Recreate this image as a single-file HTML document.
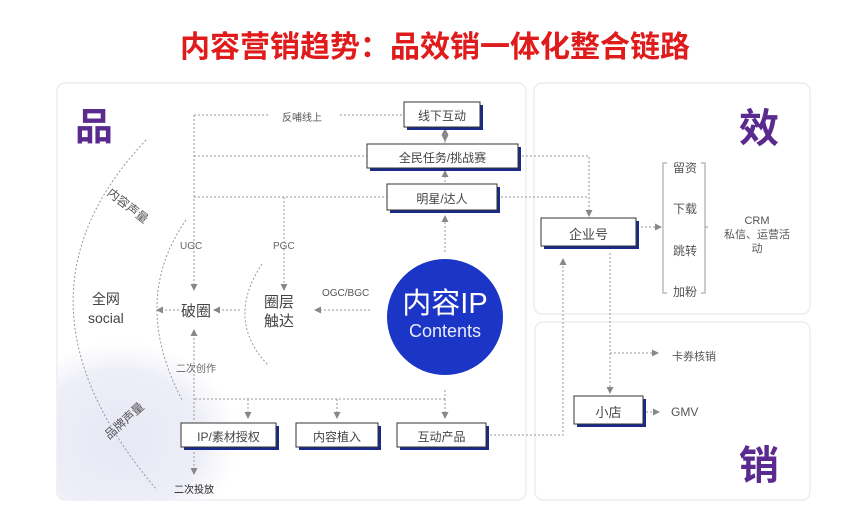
<!DOCTYPE html>
<html><head><meta charset="utf-8"><style>
html,body{margin:0;width:855px;height:509px;overflow:hidden;}
body{background:#fff;position:relative;font-family:"Liberation Sans","Noto Sans CJK SC",sans-serif;}
.t{position:absolute;white-space:nowrap;}
</style></head><body>
<svg width="855" height="509" style="position:absolute;left:0;top:0;display:block" xmlns="http://www.w3.org/2000/svg">
<defs>
<radialGradient id="blob" cx="0.5" cy="0.5" r="0.5"><stop offset="0" stop-color="#e8e8f6"/><stop offset="0.7" stop-color="#eeeef8"/><stop offset="1" stop-color="#f6f6fc" stop-opacity="0"/></radialGradient>
<clipPath id="cp"><rect x="57" y="83" width="469" height="417" rx="8"/></clipPath>
<marker id="a" markerWidth="8" markerHeight="8" refX="6" refY="4" orient="auto" markerUnits="userSpaceOnUse"><path d="M0,0.5 L7,4 L0,7.5z" fill="#888"/></marker>
</defs>
<rect x="57" y="83" width="469" height="417" rx="8" fill="#fff" stroke="#e4e4ec"/>
<ellipse cx="120" cy="440" rx="120" ry="100" fill="url(#blob)" clip-path="url(#cp)"/>
<rect x="534" y="83" width="276" height="231" rx="8" fill="#fff" stroke="#e4e4ec"/>
<rect x="535" y="322" width="275" height="178" rx="8" fill="#fff" stroke="#e4e4ec"/>
<g fill="none" stroke="#999" stroke-width="1" stroke-dasharray="2,2">
<path d="M146,140 Q-5,300 157,490"/>
<path d="M186,220 Q130,300 182,400"/>
<path d="M262,264 Q225,320 268,365"/>
<path d="M194,115 L270,115 M340,115 L403,115"/>
<path d="M194,115 L194,290" marker-end="url(#a)"/>
<path d="M194,156 L367,156 M194,197 L387,197"/>
<path d="M284,197 L284,290" marker-end="url(#a)"/>
<path d="M445,143 L445,129" marker-end="url(#a)"/>
<path d="M445,129 L445,141" marker-end="url(#a)"/>
<path d="M445,182 L445,171" marker-end="url(#a)"/>
<path d="M445,252 L445,216" marker-end="url(#a)"/>
<path d="M370,310 L315,310" marker-end="url(#a)"/>
<path d="M240,310 L214,310" marker-end="url(#a)"/>
<path d="M179,310 L157,310" marker-end="url(#a)"/>
<path d="M194,420 L194,330" marker-end="url(#a)"/>
<path d="M194,448 L194,474" marker-end="url(#a)"/>
<path d="M195,399 L445,399 M445,390 L445,399"/>
<path d="M248,399 L248,418" marker-end="url(#a)"/>
<path d="M337,399 L337,418" marker-end="url(#a)"/>
<path d="M445,399 L445,418" marker-end="url(#a)"/>
<path d="M518,156 L589,156 L589,216" marker-end="url(#a)"/>
<path d="M497,197 L589,197"/>
<path d="M641,227 L661,227" marker-end="url(#a)"/>
<path d="M610,253 L610,393" marker-end="url(#a)"/>
<path d="M610,353 L658,353" marker-end="url(#a)"/>
<path d="M646,412 L659,412" marker-end="url(#a)"/>
<path d="M486,435 L563,435 L563,259" marker-end="url(#a)"/>
</g>
<path d="M667,163 L663,163 L663,293 L667,293 M701,163 L705,163 L705,293 L701,293 M705,227 L708,227" fill="none" stroke="#999"/>
<g stroke="#333" stroke-width="1" fill="#fff">
<rect x="407" y="105" width="76" height="25" fill="#1a2a8a" stroke="none"/><rect x="404" y="102" width="76" height="25"/>
<rect x="370" y="147" width="151" height="24" fill="#1a2a8a" stroke="none"/><rect x="367" y="144" width="151" height="24"/>
<rect x="390" y="187" width="110" height="26" fill="#1a2a8a" stroke="none"/><rect x="387" y="184" width="110" height="26"/>
<rect x="184" y="426" width="95" height="24" fill="#1a2a8a" stroke="none"/><rect x="181" y="423" width="95" height="24"/>
<rect x="299" y="426" width="82" height="24" fill="#1a2a8a" stroke="none"/><rect x="296" y="423" width="82" height="24"/>
<rect x="400" y="426" width="89" height="24" fill="#1a2a8a" stroke="none"/><rect x="397" y="423" width="89" height="24"/>
<rect x="544" y="221" width="95" height="28" fill="#1a2a8a" stroke="none"/><rect x="541" y="218" width="95" height="28"/>
<rect x="577" y="399" width="69" height="28" fill="#1a2a8a" stroke="none"/><rect x="574" y="396" width="69" height="28"/>
</g>
<circle cx="445" cy="317" r="58" fill="#1b35c6"/>
</svg>
<div class="t" style="left:15px;width:840px;top:22px;text-align:center;font-size:30px;font-weight:bold;color:#e01b1b">内容营销趋势：品效销一体化整合链路</div>
<div class="t" style="left:75px;top:96px;font-size:38px;font-weight:bold;color:#5b2a8e">品</div>
<div class="t" style="left:739px;top:96px;font-size:40px;font-weight:bold;color:#5b2a8e">效</div>
<div class="t" style="left:739px;top:433px;font-size:40px;font-weight:bold;color:#5b2a8e">销</div>
<div class="t" style="left:404px;top:107px;width:76px;text-align:center;font-size:12px;color:#444">线下互动</div>
<div class="t" style="left:367px;top:149px;width:151px;text-align:center;font-size:12px;color:#444">全民任务/挑战赛</div>
<div class="t" style="left:387px;top:190px;width:110px;text-align:center;font-size:12px;color:#444">明星/达人</div>
<div class="t" style="left:181px;top:428px;width:95px;text-align:center;font-size:12px;color:#444">IP/素材授权</div>
<div class="t" style="left:296px;top:428px;width:82px;text-align:center;font-size:12px;color:#444">内容植入</div>
<div class="t" style="left:397px;top:428px;width:89px;text-align:center;font-size:12px;color:#444">互动产品</div>
<div class="t" style="left:541px;top:224px;width:95px;text-align:center;font-size:13px;color:#444">企业号</div>
<div class="t" style="left:574px;top:402px;width:69px;text-align:center;font-size:13px;color:#444">小店</div>
<div class="t" style="left:387px;top:280px;width:116px;text-align:center;font-size:29px;color:#fff">内容IP</div>
<div class="t" style="left:387px;top:321px;width:116px;text-align:center;font-size:18px;color:#e8ecff">Contents</div>
<div class="t" style="left:282px;top:109px;font-size:10px;color:#555">反哺线上</div>
<div class="t" style="left:180px;top:241px;font-size:10px;color:#666">UGC</div>
<div class="t" style="left:273px;top:241px;font-size:10px;color:#666">PGC</div>
<div class="t" style="left:322px;top:288px;font-size:10px;color:#555">OGC/BGC</div>
<div class="t" style="left:181px;top:300px;font-size:15px;color:#444">破圈</div>
<div class="t" style="left:264px;top:293px;font-size:15px;color:#444;line-height:19px">圈层<br>触达</div>
<div class="t" style="left:88px;top:290px;font-size:14px;color:#444;line-height:19px;text-align:center">全网<br>social</div>
<div class="t" style="left:176px;top:360px;font-size:10px;color:#666">二次创作</div>
<div class="t" style="left:174px;top:481px;font-size:10px;color:#222">二次投放</div>
<div class="t" style="left:104px;top:197px;font-size:12px;color:#555;transform:rotate(38deg)">内容声量</div>
<div class="t" style="left:100px;top:412px;font-size:12px;color:#555;transform:rotate(-42deg)">品牌声量</div>
<div class="t" style="left:673px;top:159px;font-size:12px;color:#555">留资</div>
<div class="t" style="left:673px;top:200px;font-size:12px;color:#555">下载</div>
<div class="t" style="left:673px;top:242px;font-size:12px;color:#555">跳转</div>
<div class="t" style="left:673px;top:283px;font-size:12px;color:#555">加粉</div>
<div class="t" style="left:712px;top:214px;width:90px;text-align:center;font-size:11px;color:#555;line-height:14px">CRM<br>私信、运营活<br>动</div>
<div class="t" style="left:672px;top:348px;font-size:11px;color:#555">卡券核销</div>
<div class="t" style="left:671px;top:405px;font-size:12px;color:#555">GMV</div>
</body></html>
